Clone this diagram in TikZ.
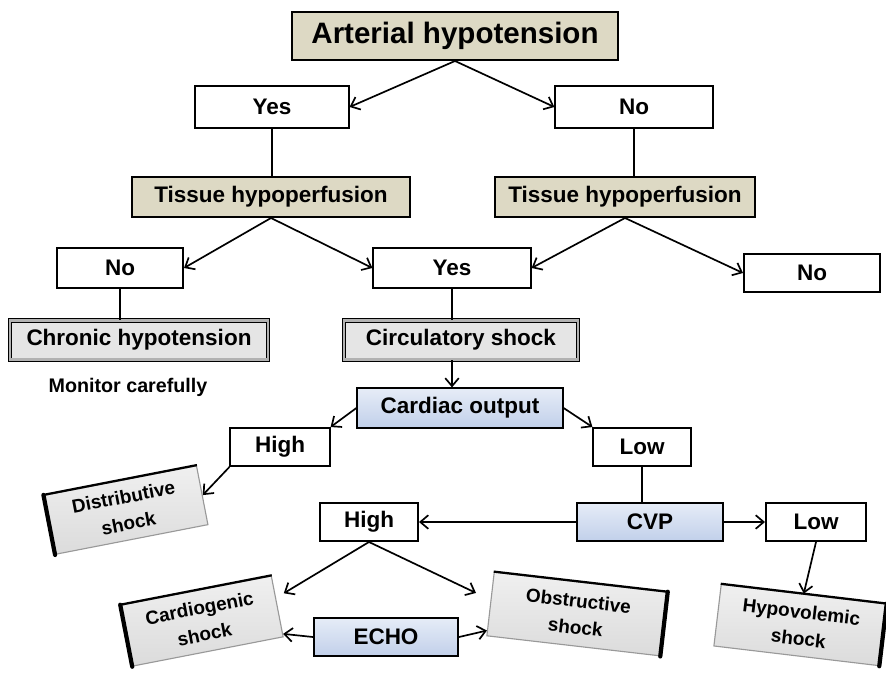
\documentclass[tikz,border=0pt]{standalone}
\usepackage{fontspec}
\setmainfont{Liberation Sans}
\usetikzlibrary{arrows.meta}
\definecolor{tanfill}{RGB}{221,217,196}
\definecolor{cvblue}{RGB}{193,208,234}
\definecolor{cvlight}{RGB}{230,236,247}

\begin{document}
\begin{tikzpicture}[x=0.025cm, y=-0.025cm, >={Straight Barb[length=2mm, width=3.4mm]},
	every node/.style={font=\fontsize{16}{18}\selectfont\bfseries},
	box/.style={draw, line width=1.4pt, inner sep=0pt, minimum height=0.98cm, fill=white},
	tanbox/.style={box, fill=tanfill},
	greybox/.style={box, line width=0.7pt, double=gray!60, double distance=1.6pt, fill=black!10},
	bluebox/.style={box, top color=cvlight, bottom color=cvblue},
	plaque/.style={draw=gray!80, line width=0.8pt, inner sep=0pt, align=center, top color=black!6, bottom color=black!14, font=\fontsize{13.5}{19}\selectfont\bfseries},
	slab/.style={line width=3pt, line cap=round},
	link/.style={line width=1.2pt}]
	\useasboundingbox (0,0) rectangle (886,672);
	% top levels
	\node[tanbox, minimum width=8.15cm, minimum height=1.2cm, font=\fontsize{21}{23}\selectfont\bfseries] (art) at (455,36) {Arterial hypotension};
	\node[box, minimum width=3.83cm, minimum height=1.05cm] (yesA) at (272,107) {Yes};
	\node[box, minimum width=3.93cm, minimum height=1.05cm] (noA) at (634,107) {No};
	\node[tanbox, minimum width=6.95cm, minimum height=1cm] (tisL) at (271,197) {Tissue hypoperfusion};
	\node[tanbox, minimum width=6.5cm, minimum height=1cm] (tisR) at (625,197) {Tissue hypoperfusion};
	\node[box, minimum width=3.15cm] (noB) at (120,268) {No};
	\node[box, minimum width=3.93cm] (yesB) at (452,268) {Yes};
	\node[box, minimum width=3.4cm, minimum height=0.93cm] (noC) at (812,273) {No};
	\node[greybox, minimum width=6.45cm] (chron) at (139,340) {Chronic hypotension};
	\node[greybox, minimum width=5.85cm] (circ) at (461,340) {Circulatory shock};
	\node[font=\fontsize{14}{16}\selectfont\bfseries] (mon) at (128,387) {Monitor carefully};
	% shock branches
	\node[bluebox, minimum width=5.13cm] (co) at (460,408) {Cardiac output};
	\node[box, minimum width=2.48cm, minimum height=0.95cm] (highA) at (280,447) {High};
	\node[box, minimum width=2.43cm, minimum height=0.95cm] (lowA) at (642,447) {Low};
	\node[bluebox, minimum width=3.65cm, minimum height=0.95cm] (cvp) at (650,522) {CVP};
	\node[box, minimum width=2.45cm, minimum height=0.95cm] (highB) at (369,522) {High};
	\node[box, minimum width=2.5cm, minimum height=0.95cm] (lowB) at (816,522) {Low};
	\node[bluebox, minimum width=3.6cm, minimum height=0.93cm] (echo) at (386,637) {ECHO};
	% tilted plaques
	\node[plaque, rotate=11, minimum width=3.88cm, minimum height=1.5cm] (dist) at (126,510) {Distributive\\shock};
	\node[plaque, rotate=11, minimum width=3.83cm, minimum height=1.55cm] (card) at (202,621) {Cardiogenic\\shock};
	\node[plaque, rotate=-6.6, minimum width=4.35cm, minimum height=1.6cm] (obst) at (577,614) {Obstructive\\shock};
	\node[plaque, rotate=-6.8, minimum width=4.15cm, minimum height=1.55cm] (hypo) at (800,625) {Hypovolemic\\shock};
	\draw[slab] (dist.north west) -- (dist.south west); \draw[line width=1.6pt] (dist.north west) -- (dist.north east);
	\draw[slab] (card.north west) -- (card.south west); \draw[line width=1.6pt] (card.north west) -- (card.north east);
	\draw[slab] (obst.north east) -- (obst.south east); \draw[line width=1.6pt] (obst.north west) -- (obst.north east);
	\draw[slab] (hypo.north east) -- (hypo.south east); \draw[line width=1.6pt] (hypo.north west) -- (hypo.north east);
	% connectors
	\draw[link, ->] (art.south) -- (yesA.east);
	\draw[link, ->] (art.south) -- (noA.west);
	\draw[link] (yesA.south) -- (yesA.south |- tisL.north);
	\draw[link] (noA.south) -- (noA.south |- tisR.north);
	\draw[link, ->] (tisL.south) -- (noB.east);
	\draw[link, ->] (tisL.south) -- (yesB.west);
	\draw[link, ->] (tisR.south) -- (yesB.east);
	\draw[link, ->] (tisR.south) -- (noC.west);
	\draw[link] (noB.south) -- (noB.south |- chron.north);
	\draw[link] (yesB.south) -- (yesB.south |- circ.north);
	\draw[link, ->] (yesB.south |- circ.south) -- (yesB.south |- co.north);
	\draw[link, ->] (co.west) -- (highA.north east);
	\draw[link, ->] (co.east) -- (lowA.north west);
	\draw[link, ->] (highA.south west) -- (dist.east);
	\draw[link] (lowA.south) -- (lowA.south |- cvp.north);
	\draw[link, ->] (cvp.west) -- (highB.east);
	\draw[link, ->] (cvp.east) -- (lowB.west);
	\draw[link, ->] (lowB.south) -- (hypo.north);
	\draw[link, ->] (highB.south) -- ([shift={(6,-13)}]card.east);
	\draw[link, ->] (highB.south) -- ([shift={(-14,-11)}]obst.west);
	\draw[link, ->] (echo.west) -- (card.-20);
	\draw[link, ->] (echo.east) -- (obst.197);
\end{tikzpicture}
\end{document}
